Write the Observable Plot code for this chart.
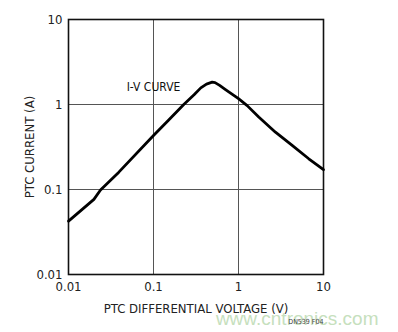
<!DOCTYPE html>
<html>
<head>
<meta charset="utf-8">
<script src="https://cdn.jsdelivr.net/npm/d3@7"></script>
<script src="https://cdn.jsdelivr.net/npm/@observablehq/plot@0.6"></script>
<style>
  html, body { margin: 0; padding: 0; background: #fff; }
  #chart { width: 398px; height: 332px; }
  #chart svg text { font-stretch: condensed; }
</style>
</head>
<body>
<div id="chart"></div>
<script>
// PTC differential voltage (V)
const voltage = [0.01, 0.0199, 0.0238, 0.0391, 0.1, 0.15, 0.227, 0.3, 0.36, 0.42, 0.49, 0.53, 0.6, 0.703, 1.0, 1.265, 1.73, 2.72, 4.28, 6.71, 10];
// PTC current (A)
const current = [0.0424, 0.0765, 0.0985, 0.16, 0.431, 0.654, 1.0, 1.3, 1.57, 1.74, 1.83, 1.81, 1.68, 1.5, 1.17, 0.97, 0.712, 0.472, 0.33, 0.23, 0.171];

const tickValues = [0.01, 0.1, 1, 10];
const xTickLabels = ["0.01", "0.1", "1", "10"];
const yTickLabels = ["0.01", "0.1", "1", "10"];

const curveLabel = ["I-V CURVE"];
const curveLabelV = [0.1];
const curveLabelI = [1.62];

const xTitle = "PTC DIFFERENTIAL VOLTAGE (V)";
const yTitle = "PTC CURRENT (A)";
const figureCode = "DN539 F04";
const watermark = "www.cntronics.com";

const data = voltage.map((v, i) => ({v, i: current[i]}));
const labels = curveLabel.map((t, k) => ({t, v: curveLabelV[k], i: curveLabelI[k]}));

const font = "'DejaVu Sans', 'Liberation Sans', sans-serif";

const chart = Plot.plot({
  width: 398,
  height: 332,
  marginLeft: 68,
  marginRight: 75,
  marginTop: 19,
  marginBottom: 58,
  style: {fontFamily: font, fontSize: "12px", color: "#222", background: "#fff"},
  x: {type: "log", domain: [0.01, 10]},
  y: {type: "log", domain: [0.01, 10]},
  marks: [
    Plot.gridX(tickValues, {stroke: "#555", strokeOpacity: 1, strokeWidth: 1}),
    Plot.gridY(tickValues, {stroke: "#555", strokeOpacity: 1, strokeWidth: 1}),
    Plot.frame({stroke: "#111", strokeWidth: 1.6}),
    Plot.axisX(tickValues, {
      tickSize: 0, tickPadding: 7,
      tickFormat: d => xTickLabels[tickValues.indexOf(d)],
      label: xTitle, labelAnchor: "center", labelArrow: "none", labelOffset: 38,
      fontSize: 13, fill: "#222"
    }),
    Plot.axisY(tickValues, {
      tickSize: 0, tickPadding: 6,
      tickFormat: d => yTickLabels[tickValues.indexOf(d)],
      label: yTitle, labelAnchor: "center", labelArrow: "none", labelOffset: 44,
      fontSize: 13, fill: "#222"
    }),
    Plot.line(data, {x: "v", y: "i", stroke: "#000", strokeWidth: 2.8, strokeLinejoin: "round"}),
    Plot.text(labels, {x: "v", y: "i", text: "t", fontSize: 12, fill: "#111"}),
    Plot.text([watermark], {frameAnchor: "bottom-right", dx: 55, dy: 50, text: d => d, fill: "#c6e0bd", fontSize: 19, fontFamily: "'Liberation Sans', sans-serif", textAnchor: "end"}),
    Plot.text([figureCode], {frameAnchor: "bottom-right", dx: 0, dy: 49, text: d => d, fill: "#444", fontSize: 7, textAnchor: "end"})
  ]
});
document.getElementById("chart").appendChild(chart);
</script>
</body>
</html>
